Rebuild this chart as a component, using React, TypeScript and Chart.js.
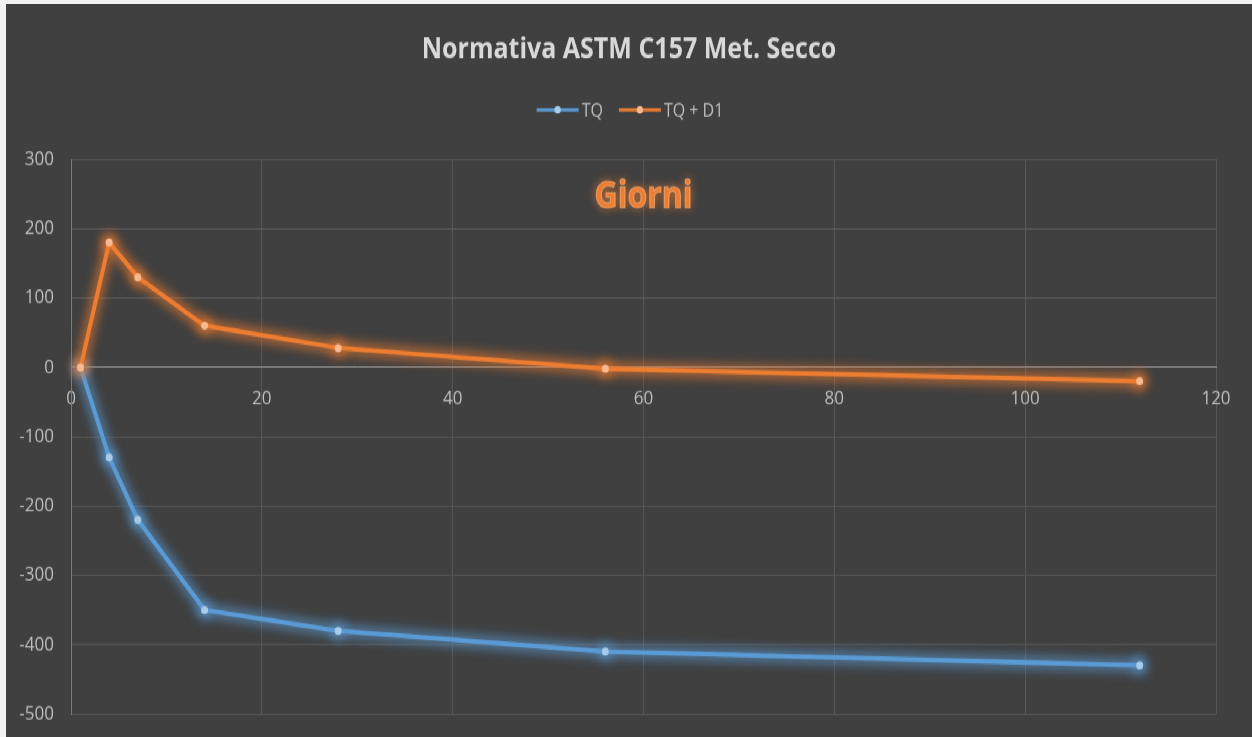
import { useEffect, useRef } from "react";
import { Chart, registerables } from "chart.js";

Chart.register(...registerables);

// Chart content
const chartTitle = "Normativa ASTM C157 Met. Secco";
const axisNote = "Giorni";
const seriesNames = ["TQ", "TQ + D1"];
const days = [1, 4, 7, 14, 28, 56, 112];
const tqValues = [0, -130, -220, -350, -380, -410, -430];
const tqD1Values = [0, 180, 130, 60, 28, -2, -20];
const xRange = [0, 120];
const xStep = 20;
const yRange = [-500, 300];
const yStep = 100;
const notePosition = { x: 60, y: 245 };

// Look
const BG = "#404040";
const BLUE = "#5B9BD5";
const ORANGE = "#ED7D31";
const TEXT = "#bfbfbf";
const FONT = '"Open Sans", "Noto Sans", sans-serif';

// The drawing is made slightly taller than wide text would be, as in the exported sheet
const OUT_W = 1246;
const OUT_H = 733;
const CANVAS_H = 637;
const STRETCH = OUT_H / CANVAS_H;

// Soft halo behind each series line, following the dataset's own points
const glowPlugin = {
  id: "glow",
  beforeDatasetDraw(chart: any, args: any) {
    const ds = chart.data.datasets[args.index];
    const pts = args.meta.data;
    const ctx = chart.ctx as CanvasRenderingContext2D;
    ctx.save();
    ctx.filter = "blur(5px)";
    ctx.strokeStyle = ds.glowColor;
    ctx.lineWidth = 13;
    ctx.lineJoin = "round";
    ctx.lineCap = "round";
    ctx.beginPath();
    pts.forEach((p: any, i: number) => (i ? ctx.lineTo(p.x, p.y) : ctx.moveTo(p.x, p.y)));
    ctx.stroke();
    ctx.fillStyle = ds.glowColor;
    pts.forEach((p: any) => {
      ctx.beginPath();
      ctx.arc(p.x, p.y, 9, 0, Math.PI * 2);
      ctx.fill();
    });
    ctx.restore();
    ctx.save();
    ctx.shadowColor = ds.glowColor;
    ctx.shadowBlur = 10;
  },
  afterDatasetDraw(chart: any) {
    chart.ctx.restore();
  },
};

const headerPlugin = {
  id: "header",
  afterDraw(chart: any) {
    const ctx = chart.ctx as CanvasRenderingContext2D;
    const cx = chart.width / 2;
    ctx.save();

    // title
    ctx.fillStyle = "#d9d9d9";
    ctx.font = `bold 25px ${FONT}`;
    ctx.textAlign = "center";
    ctx.textBaseline = "middle";
    ctx.fillText(chartTitle, cx, 40);

    // legend
    ctx.font = `16px ${FONT}`;
    ctx.textAlign = "left";
    const colors = [BLUE, ORANGE];
    const marks = ["#a9cbea", "#f6b990"];
    const lineLen = 42;
    const gap = 3;
    const itemGap = 16;
    const widths = seriesNames.map((n) => ctx.measureText(n).width);
    const total = widths.reduce((a, w) => a + lineLen + gap + w, 0) + itemGap * (seriesNames.length - 1);
    let x = cx + 1 - total / 2;
    const ly = 92;
    seriesNames.forEach((name, i) => {
      ctx.strokeStyle = colors[i];
      ctx.lineWidth = 3;
      ctx.beginPath();
      ctx.moveTo(x, ly);
      ctx.lineTo(x + lineLen, ly);
      ctx.stroke();
      ctx.fillStyle = marks[i];
      ctx.beginPath();
      ctx.arc(x + lineLen / 2, ly, 3.2, 0, Math.PI * 2);
      ctx.fill();
      ctx.fillStyle = TEXT;
      ctx.fillText(name, x + lineLen + gap, ly + 1);
      x += lineLen + gap + widths[i] + itemGap;
    });

    // axis note inside the plot
    const nx = chart.scales.x.getPixelForValue(notePosition.x);
    const ny = chart.scales.y.getPixelForValue(notePosition.y);
    ctx.font = `bold 32px ${FONT}`;
    ctx.textAlign = "center";
    ctx.textBaseline = "middle";
    ctx.shadowColor = "rgba(237,125,49,0.9)";
    ctx.shadowBlur = 8;
    ctx.fillStyle = ORANGE;
    ctx.fillText(axisNote, nx, ny);
    ctx.shadowBlur = 0;
    ctx.strokeStyle = "rgba(255,196,150,0.55)";
    ctx.lineWidth = 1;
    ctx.strokeText(axisNote, nx, ny);
    ctx.restore();
  },
};

export default function App() {
  const ref = useRef<HTMLCanvasElement>(null);

  useEffect(() => {
    const canvas = ref.current;
    if (!canvas) return;
    const tickFont = { family: FONT, size: 17 };
    const chart = new Chart(canvas, {
      type: "line",
      data: {
        datasets: [
          {
            label: seriesNames[0],
            data: days.map((d, i) => ({ x: d, y: tqValues[i] })),
            borderColor: BLUE,
            backgroundColor: BLUE,
            borderWidth: 4,
            pointRadius: 3.5,
            pointBorderWidth: 0,
            pointBackgroundColor: "#a9cbea",
            tension: 0,
            order: 1,
            glowColor: "rgba(91,155,213,0.45)",
          } as any,
          {
            label: seriesNames[1],
            data: days.map((d, i) => ({ x: d, y: tqD1Values[i] })),
            borderColor: ORANGE,
            backgroundColor: ORANGE,
            borderWidth: 4,
            pointRadius: 3.5,
            pointBorderWidth: 0,
            pointBackgroundColor: "#f6b990",
            tension: 0,
            order: 0,
            glowColor: "rgba(237,125,49,0.45)",
          } as any,
        ],
      },
      options: {
        responsive: false,
        animation: false,
        devicePixelRatio: 1,
        layout: { padding: { left: 0, right: 36, top: 135, bottom: 20 } },
        plugins: {
          legend: { display: false },
          title: { display: false },
          tooltip: { enabled: false },
        },
        scales: {
          x: {
            type: "linear",
            position: { y: 0 } as any,
            min: xRange[0],
            max: xRange[1],
            ticks: { stepSize: xStep, color: TEXT, font: tickFont, padding: 17 },
            grid: { color: "#575757", drawTicks: false },
            border: { display: true, color: "#8a8a8a", width: 1 },
          },
          y: {
            type: "linear",
            min: yRange[0],
            max: yRange[1],
            ticks: { stepSize: yStep, color: TEXT, font: tickFont, padding: 17 },
            grid: { color: "#575757", drawTicks: false },
            border: { display: true, color: "#7a7a7a", width: 1 },
            afterFit: (scale: any) => {
              scale.width = 65;
              scale.paddingTop = 11;
              scale.paddingBottom = 11;
            },
          },
        },
      },
      plugins: [glowPlugin, headerPlugin],
    });
    return () => chart.destroy();
  }, []);

  return (
    <div
      style={{
        position: "fixed",
        left: 0,
        top: 0,
        width: 1252,
        height: 737,
        background: "#f2f2f2",
        overflow: "hidden",
      }}
    >
      <div
        style={{
          position: "absolute",
          left: 6,
          top: 4,
          width: OUT_W,
          height: CANVAS_H,
          background: BG,
          transform: `scaleY(${STRETCH})`,
          transformOrigin: "0 0",
        }}
      >
        <canvas ref={ref} width={OUT_W} height={CANVAS_H} style={{ display: "block" }} />
      </div>
    </div>
  );
}
